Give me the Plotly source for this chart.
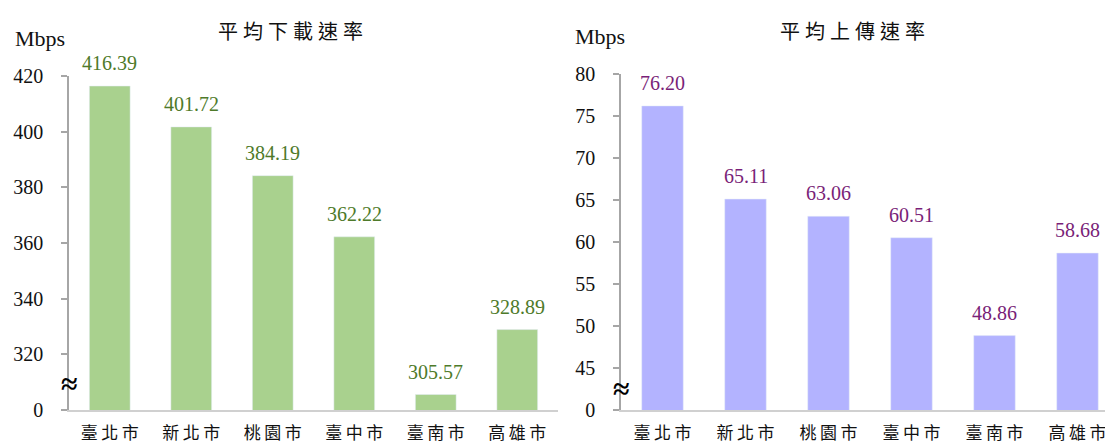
import plotly.graph_objects as go

# Cities and measured average speeds (Mbps)
cities = ["臺北市", "新北市", "桃園市", "臺中市", "臺南市", "高雄市"]
download = [416.39, 401.72, 384.19, 362.22, 305.57, 328.89]
upload = [76.20, 65.11, 63.06, 60.51, 48.86, 58.68]

# Broken-axis ticks: the lowest tick stands for 0
dl_tickvals = [300, 320, 340, 360, 380, 400, 420]
dl_ticktext = ["0", "320", "340", "360", "380", "400", "420"]
ul_tickvals = [40, 45, 50, 55, 60, 65, 70, 75, 80]
ul_ticktext = ["0", "45", "50", "55", "60", "65", "70", "75", "80"]

W, H = 1105, 446
SERIF = "Liberation Serif"
CJK = "Noto Sans CJK TC"

GREEN_BAR = "#a9d18e"
GREEN_TXT = "#4e7a2a"
PURPLE_BAR = "#b3b3ff"
PURPLE_TXT = "#7a1f78"
AXIS_GREY = "#a6a6a6"


def px(x):
    return x / W


def py(y):
    return 1 - y / H


def spaced(s, sep="\u2009"):
    return sep.join(list(s))


fig = go.Figure()
fig.add_trace(go.Bar(x=cities, y=download, marker_color=GREEN_BAR, width=0.5,
                     xaxis="x", yaxis="y", showlegend=False))
fig.add_trace(go.Bar(x=cities, y=upload, marker_color=PURPLE_BAR, width=0.5,
                     xaxis="x2", yaxis="y2", showlegend=False))

xcommon = dict(
    type="category", showline=True, linecolor="#d0d0d0", linewidth=1.5,
    ticks="", showgrid=False, zeroline=False, automargin=False,
    tickvals=cities, ticktext=[spaced(c) for c in cities],
    tickfont=dict(family=CJK, size=17, color="#111111"),
    ticklabelstandoff=7,
)
ycommon = dict(
    showline=True, linecolor=AXIS_GREY, linewidth=1.5,
    ticks="outside", ticklen=6, tickcolor=AXIS_GREY, tickwidth=1.5,
    showgrid=False, zeroline=False, automargin=False,
    tickfont=dict(family=SERIF, size=20, color="#111111"),
    ticklabelstandoff=14,
)

fig.update_layout(
    width=W, height=H,
    margin=dict(l=0, r=0, t=0, b=0, autoexpand=False),
    paper_bgcolor="white", plot_bgcolor="white",
    bargap=0.5,
    xaxis=dict(**xcommon, domain=[px(69), px(558)], range=[-0.5, 5.5], anchor="y"),
    yaxis=dict(**ycommon, domain=[py(410), py(76)], range=[300, 420],
               tickvals=dl_tickvals, ticktext=dl_ticktext, anchor="x"),
    xaxis2=dict(**xcommon, domain=[px(621), 1.0], range=[-0.5, 5.5 - 14 / 83], anchor="y2"),
    yaxis2=dict(**ycommon, domain=[py(410), py(74)], range=[40, 80],
                tickvals=ul_tickvals, ticktext=ul_ticktext, anchor="x2"),
)

annotations = []
# value labels above each bar
for c, v in zip(cities, download):
    annotations.append(dict(x=c, y=v, xref="x", yref="y", text=f"{v:.2f}",
                            showarrow=False, yanchor="bottom", yshift=10,
                            font=dict(family=SERIF, size=20, color=GREEN_TXT)))
for c, v in zip(cities, upload):
    annotations.append(dict(x=c, y=v, xref="x2", yref="y2", text=f"{v:.2f}",
                            showarrow=False, yanchor="bottom", yshift=10,
                            font=dict(family=SERIF, size=20, color=PURPLE_TXT)))

# panel titles and unit labels
annotations += [
    dict(x=px(290), y=py(31), xref="paper", yref="paper", text=spaced("平均下載速率", "\u2005"),
         showarrow=False, xanchor="center", yanchor="middle",
         font=dict(family=CJK, size=20, color="#111111")),
    dict(x=px(852), y=py(31), xref="paper", yref="paper", text=spaced("平均上傳速率", "\u2005"),
         showarrow=False, xanchor="center", yanchor="middle",
         font=dict(family=CJK, size=20, color="#111111")),
    dict(x=px(40), y=py(38), xref="paper", yref="paper", text="Mbps",
         showarrow=False, xanchor="center", yanchor="middle",
         font=dict(family=SERIF, size=22, color="#111111")),
    dict(x=px(600), y=py(36), xref="paper", yref="paper", text="Mbps",
         showarrow=False, xanchor="center", yanchor="middle",
         font=dict(family=SERIF, size=22, color="#111111")),
    # axis-break marks
    dict(x=px(69), y=py(383), xref="paper", yref="paper", text="<b>≈</b>",
         showarrow=False, xanchor="center", yanchor="middle",
         font=dict(family=SERIF, size=30, color="#000000")),
    dict(x=px(621), y=py(388), xref="paper", yref="paper", text="<b>≈</b>",
         showarrow=False, xanchor="center", yanchor="middle",
         font=dict(family=SERIF, size=30, color="#000000")),
]
fig.update_layout(annotations=annotations)

fig.write_html("out.html")
